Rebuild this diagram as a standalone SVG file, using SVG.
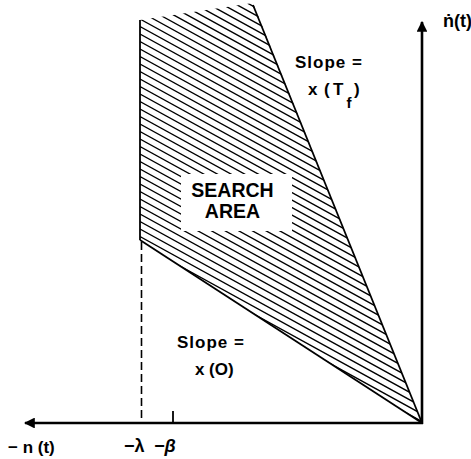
<svg xmlns="http://www.w3.org/2000/svg" width="471" height="459" viewBox="0 0 471 459">
<style>
.lbl{font-family:"Liberation Sans",Arial,sans-serif;font-size:17px;font-weight:bold;fill:#000}
.big{font-size:19px}
.axis{stroke:#000;stroke-width:2.6;fill:none}
.edge{stroke:#000;stroke-width:1.8;fill:none}
.hatch{stroke:#000;stroke-width:1.4;fill:none}
</style>
<defs>
<clipPath id="region"><polygon points="140,20 253,3 422,423 140,240"/></clipPath>
<marker id="arr" viewBox="0 0 10 10" refX="9" refY="5" markerWidth="4.2" markerHeight="4.2" orient="auto" markerUnits="strokeWidth"><path d="M0,0 L10,5 L0,10 Z" fill="#000"/></marker>
</defs>
<rect width="471" height="459" fill="#fff"/>
<g id="search-area">
<path class="hatch" clip-path="url(#region)" d="M140,-63.5L422,91.6M140,-56L422,99.1M140,-48.5L422,106.6M140,-41L422,114.1M140,-33.5L422,121.6M140,-26L422,129.1M140,-18.5L422,136.6M140,-11L422,144.1M140,-3.5L422,151.6M140,4L422,159.1M140,11.5L422,166.6M140,19L422,174.1M140,26.5L422,181.6M140,34L422,189.1M140,41.5L422,196.6M140,49L422,204.1M140,56.5L422,211.6M140,64L422,219.1M140,71.5L422,226.6M140,79L422,234.1M140,86.5L422,241.6M140,94L422,249.1M140,101.5L422,256.6M140,109L422,264.1M140,116.5L422,271.6M140,124L422,279.1M140,131.5L422,286.6M140,139L422,294.1M140,146.5L422,301.6M140,154L422,309.1M140,161.5L422,316.6M140,169L422,324.1M140,176.5L422,331.6M140,184L422,339.1M140,191.5L422,346.6M140,199L422,354.1M140,206.5L422,361.6M140,214L422,369.1M140,221.5L422,376.6M140,229L422,384.1M140,236.5L422,391.6M140,244L422,399.1M140,251.5L422,406.6M140,259L422,414.1M140,266.5L422,421.6"/>
<rect x="181" y="174" width="111" height="57" fill="#fff"/>
<line class="edge" x1="140" y1="20" x2="140" y2="240"/>
<line class="edge" x1="253" y1="5" x2="422" y2="423"/>
<line class="edge" x1="140" y1="240" x2="422" y2="423"/>
<text class="lbl big" x="232.5" y="197" text-anchor="middle" style="font-size:19.5px">SEARCH</text>
<text class="lbl big" x="232.5" y="218" text-anchor="middle" style="font-size:19.5px">AREA</text>
</g>
<g id="connectors">
<line class="axis" x1="422" y1="424" x2="422" y2="22" marker-end="url(#arr)"/>
<line class="axis" x1="423" y1="423" x2="25" y2="423" marker-end="url(#arr)"/>
<line stroke="#000" stroke-width="1.6" stroke-dasharray="8,4" x1="141.5" y1="242" x2="141.5" y2="423"/>
<line stroke="#000" stroke-width="1.8" x1="173" y1="411" x2="173" y2="423"/>
</g>
<g id="labels">
<text class="lbl" x="443" y="27" style="font-size:18px">ṅ(t)</text>
<text class="lbl" x="295" y="68" letter-spacing="1">Slope =</text>
<text class="lbl"><tspan x="308" y="95">x</tspan><tspan x="324" y="95">(</tspan><tspan x="333" y="95">T</tspan><tspan x="346.5" y="108" style="font-size:15px">f</tspan><tspan x="354" y="95">)</tspan></text>
<text class="lbl" x="177" y="348" letter-spacing="1">Slope =</text>
<text class="lbl"><tspan x="195" y="375">x</tspan><tspan x="209" y="375">(O)</tspan></text>
<text class="lbl" x="8" y="453">− n (t)</text>
<text class="lbl" x="124" y="452" style="font-size:18px">−λ</text>
<text class="lbl" x="154" y="452" style="font-size:18px;font-style:italic">−β</text>
</g>
</svg>
